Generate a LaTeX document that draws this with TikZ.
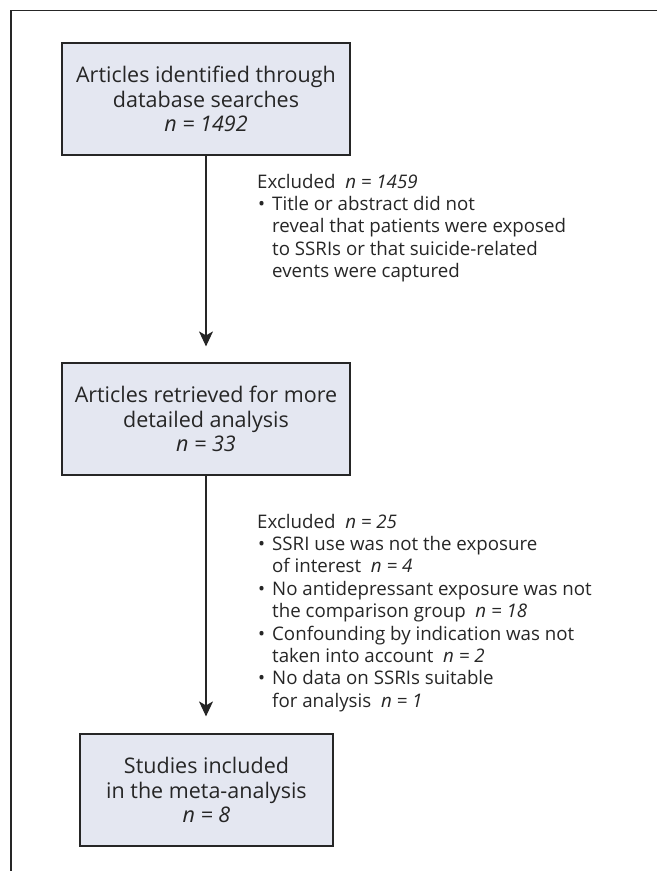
\documentclass[tikz,border=0pt]{standalone}
\usepackage{fontspec}
\setmainfont{Open Sans}
\usetikzlibrary{arrows.meta}
\definecolor{boxfill}{HTML}{E4E7F1}
\definecolor{ink}{HTML}{262626}
\newcommand\blt{\makebox[15pt][l]{\hspace*{1pt}•}}
\newcommand\ind{\hspace*{15pt}}
\begin{document}
\begin{tikzpicture}[x=1pt,y=-1pt,
  flowbox/.style={draw=ink, line width=1.2pt, fill=boxfill, text=ink, minimum height=112pt, inner sep=0pt, align=center, font=\fontsize{21.5}{24.8}\selectfont},
  exnote/.style={anchor=base west, inner sep=0pt, text=ink, font=\fontsize{18.7}{22.4}\selectfont},
  flowarrow/.style={draw=ink, line width=1.2pt, -{Stealth[length=15pt,width=14pt,inset=4pt]}}]
\useasboundingbox (0,0) rectangle (657,871);
\draw[ink, line width=1.2pt] (657,10.5) -- (11,10.5) -- (11,871);
\node[flowbox, minimum width=288pt] (b1) at (206,99) {Articles identified through\\database searches\\\textit{n = 1492}};
\node[flowbox, minimum width=288pt] (b2) at (206,419) {Articles retrieved for more\\detailed analysis\\\textit{n = 33}};
\node[flowbox, minimum width=253pt] (b3) at (206.5,790) {Studies included\\in the meta-analysis\\\textit{n = 8}};
\draw[flowarrow, shorten >=16pt] (b1.south) -- (b2.north);
\draw[flowarrow, shorten >=17pt] (b2.south) -- (b2.south |- b3.north);
\node[exnote] (e1) at (257,188) {\parbox[t]{390pt}{\raggedright
Excluded\ \ \textit{n = 1459}\\
\blt Title or abstract did not\\
\ind reveal that patients were exposed\\
\ind to SSRIs or that suicide-related\\
\ind events were captured}};
\node[exnote] (e2) at (257,528) {\parbox[t]{390pt}{\raggedright
Excluded\ \ \textit{n = 25}\\
\blt SSRI use was not the exposure\\
\ind of interest\ \ \textit{n = 4}\\
\blt No antidepressant exposure was not\\
\ind the comparison group\ \ \textit{n = 18}\\
\blt Confounding by indication was not\\
\ind taken into account\ \ \textit{n = 2}\\
\blt No data on SSRIs suitable\\
\ind for analysis\ \ \textit{n = 1}}};
\end{tikzpicture}
\end{document}
